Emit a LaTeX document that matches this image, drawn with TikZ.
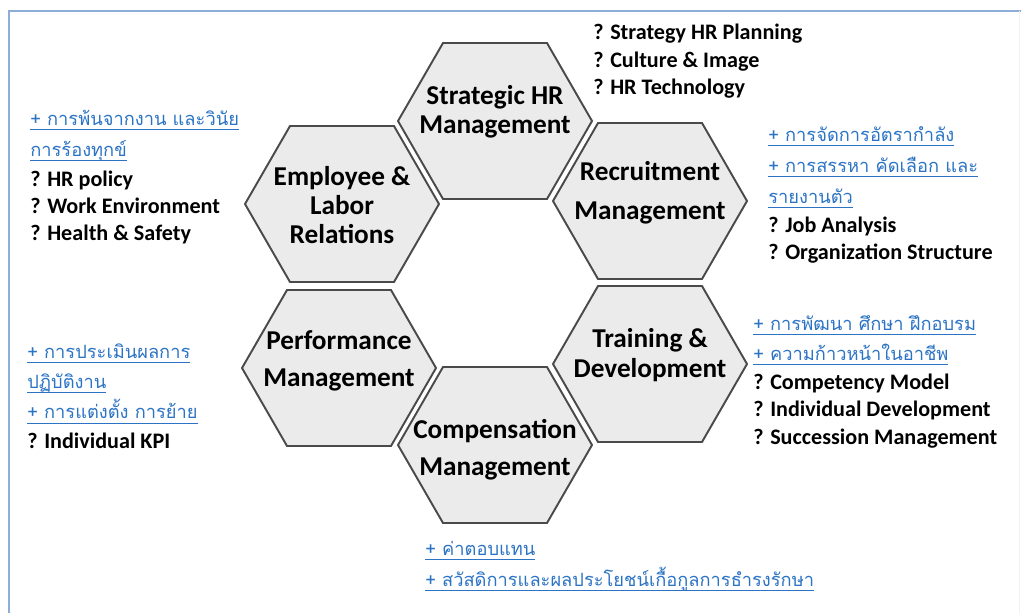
\documentclass[tikz,border=0pt]{standalone}
\usepackage{fontspec}
\setmainfont{Carlito}
\newfontfamily\thaifont[Script=Thai]{Loma}
\definecolor{thblue}{HTML}{2B73C4}
\definecolor{framecol}{HTML}{8EAEDA}
\definecolor{hexfill}{HTML}{EBEBEB}
\definecolor{hexedge}{HTML}{4A4A4A}
\newcommand\thline[1]{{\thaifont\mdseries\fontsize{10.4}{15.6}\selectfont\color{thblue}\setbox0\hbox{#1}\rlap{\rule[-2.6pt]{\wd0}{0.6pt}}\box0}}

\begin{document}
\begin{tikzpicture}[
    x=0.02cm, y=-0.02cm,
    frame/.style={
        draw=framecol, line width=1.6pt
    },
    hexline/.style={
        draw=hexedge, fill=hexfill, line width=1.1pt, line join=miter
    },
    hexcell/.pic={
        \draw[hexline] (-97,0) -- (-52,-78) -- (52,-78) -- (97,0) -- (52,78) -- (-52,78) -- cycle;
    },
    hexlabel/.style={
        align=center, inner sep=0pt, font=\fontsize{15.5}{16.6}\selectfont\bfseries
    },
    sidetext/.style={
        anchor=north west, align=left, inner sep=0pt, font=\fontsize{12.6}{15.6}\selectfont\bfseries
    },
]

    \useasboundingbox (0,0) rectangle (1021,613);
    \draw[frame] (9,613) -- (9,11) -- (1021,11);
    \draw[framecol!15, line width=.6pt] (1019.5,11) -- (1019.5,613);

    % hexagon ring
    \pic (hstrat) at (495,121) {hexcell};
    \pic (hempl) at (342,204) {hexcell};
    \pic (hrecr) at (650,201) {hexcell};
    \pic (hperf) at (339,368) {hexcell};
    \pic (htrain) at (650,364) {hexcell};
    \pic (hcomp) at (495,445) {hexcell};

    \node[hexlabel] (strat) at (495,112) {Strategic HR\\Management};
    \node[hexlabel] (empl) at (342,205) {Employee \&\\Labor\\Relations};
    \node[hexlabel] (recr) at (650,193) {Recruitment\\[5.8pt]Management};
    \node[hexlabel] (perf) at (339,361) {Performance\\[4.6pt]Management};
    \node[hexlabel] (train) at (650,355) {Training \&\\Development};
    \node[hexlabel] (comp) at (495,450) {Compensation\\[4.6pt]Management};

    % side texts
    \node[sidetext] (strattxt) at (593,24) {
        ? Strategy HR Planning\\
        ? Culture \& Image\\
        ? HR Technology
    };
    \node[sidetext] (empltxt) at (30,110) {
        \thline{+ การพ้นจากงาน และวินัย}\\[2.2pt]
        \thline{การร้องทุกข์}\\[1pt]
        ? HR policy\\
        ? Work Environment\\
        ? Health \& Safety
    };
    \node[sidetext] (recrtxt) at (768,126) {
        \thline{+ การจัดการอัตรากำลัง}\\[2pt]
        \thline{+ การสรรหา คัดเลือก และ}\\[2pt]
        \thline{รายงานตัว}\\[1pt]
        ? Job Analysis\\
        ? Organization Structure
    };
    \node[sidetext] (traintxt) at (753,315) {
        \thline{+ การพัฒนา ศึกษา ฝึกอบรม}\\[1.5pt]
        \thline{+ ความก้าวหน้าในอาชีพ}\\[1pt]
        ? Competency Model\\
        ? Individual Development\\
        ? Succession Management
    };
    \node[sidetext] (perftxt) at (27,343) {
        \thline{+ การประเมินผลการ}\\[1.5pt]
        \thline{ปฏิบัติงาน}\\[2pt]
        \thline{+ การแต่งตั้ง การย้าย}\\[1pt]
        ? Individual KPI
    };
    \node[sidetext] (comptxt) at (425,541) {
        \thline{+ ค่าตอบแทน}\\[2pt]
        \thline{+ สวัสดิการและผลประโยชน์เกื้อกูลการธำรงรักษา}
    };

\end{tikzpicture}
\end{document}
